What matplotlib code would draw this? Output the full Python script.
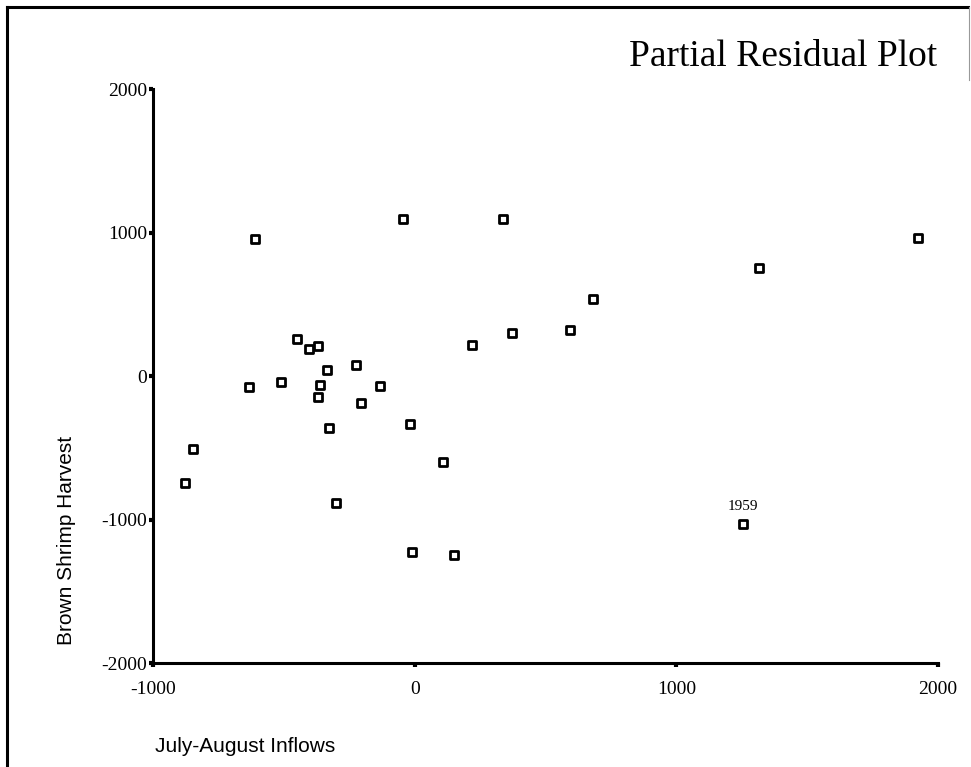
import matplotlib
matplotlib.use("Agg")
import matplotlib.pyplot as plt
from matplotlib.lines import Line2D

# Data
inflows = [-611, -43, 337, 1925, 1316, 682, 593, 373, 220, -448, -403, -371, -226,
           -335, -634, -511, -360, -134, -371, -207, -329, -18, -847, -878, 110,
           -300, -9, 150, 1255]
harvest = [957, 1094, 1096, 960, 751, 539, 321, 300, 216, 258, 188, 211, 79,
           44, -79, -42, -65, -68, -144, -190, -362, -334, -511, -744, -601,
           -885, -1229, -1249, -1033]
labeled_index = 28
labeled_text = "1959"
x_ticks = [-1000, 0, 1000, 2000]
y_ticks = [-2000, -1000, 0, 1000, 2000]

W, H = 971, 767
fig = plt.figure(figsize=(W / 100, H / 100), dpi=100)
fig.patch.set_facecolor("white")

# outer frame
fig.add_artist(Line2D([7 / W, 7 / W], [0, 1 - 7 / H], color="black", lw=2.2, transform=fig.transFigure))
fig.add_artist(Line2D([7 / W, 968 / W], [1 - 7 / H, 1 - 7 / H], color="black", lw=2.2, transform=fig.transFigure))
fig.add_artist(Line2D([969 / W, 969 / W], [1 - 7 / H, 1 - 80 / H], color="#999999", lw=0.8, transform=fig.transFigure))

ax = fig.add_axes([153 / W, 1 - 663 / H, (938 - 153) / W, (663 - 89) / H])
ax.scatter(inflows, harvest, marker="s", s=26, facecolors="white", edgecolors="black",
           linewidths=2.0, zorder=3, clip_on=False)
ax.annotate(labeled_text, (inflows[labeled_index], harvest[labeled_index]),
            xytext=(0, 8), textcoords="offset points", ha="center", va="bottom",
            fontsize=11, family="Liberation Serif")

ax.set_xlim(-1000, 2000)
ax.set_ylim(-2000, 2000)
ax.set_xticks(x_ticks)
ax.set_yticks(y_ticks)
ax.set_xticklabels([str(v) for v in x_ticks])
ax.set_yticklabels([str(v) for v in y_ticks])
for s in ["top", "right"]:
    ax.spines[s].set_visible(False)
for s in ["left", "bottom"]:
    ax.spines[s].set_linewidth(2.2)
ax.tick_params(axis="x", direction="out", length=3, width=3, pad=10, labelsize=14)
ax.tick_params(axis="y", direction="out", length=3, width=3, pad=1, labelsize=14)
for lab in ax.get_xticklabels() + ax.get_yticklabels():
    lab.set_family("Liberation Serif")

fig.text(937 / W, 1 - 57 / H, "Partial Residual Plot", ha="right", va="center",
         fontsize=27, family="Liberation Serif")
fig.text(67 / W, 1 - 540 / H, "Brown Shrimp Harvest", rotation=90, ha="center", va="center",
         fontsize=15, family="Liberation Sans")
fig.text(155 / W, 1 - 747 / H, "July-August Inflows", ha="left", va="center",
         fontsize=15, family="Liberation Sans")

fig.savefig("out.png", dpi=100, facecolor="white")
